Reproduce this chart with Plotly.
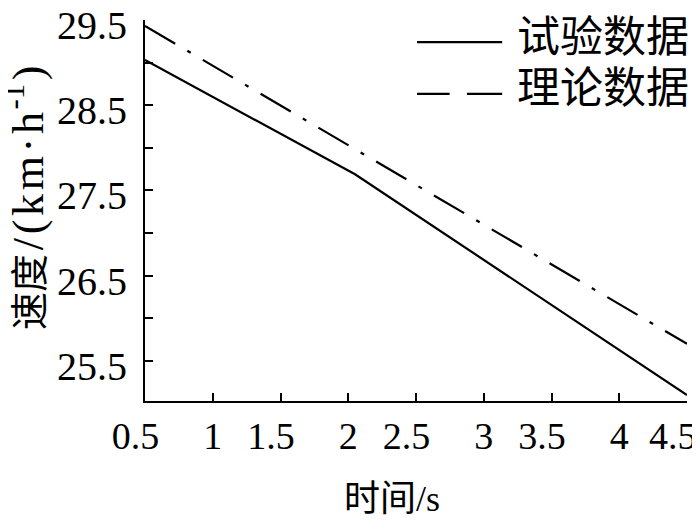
import plotly.graph_objects as go

t_test = [0.5, 2.05, 4.5]
v_test = [29.03, 27.69, 25.1]
t_theory = [0.5, 4.5]
v_theory = [29.43, 25.7]
series_names = ["试验数据", "理论数据"]

# the ".5" labels in the original sit a little left of their ticks; a hidden trailing
# character reproduces that offset
PAD = "<span style='color:rgba(0,0,0,0)'>0</span>"
PAD2 = "<span style='color:rgba(0,0,0,0)'>0.</span>"
x_ticks = [0.5, 1, 1.5, 2, 2.5, 3, 3.5, 4, 4.5]
x_labels = ["0.5" + PAD, "1", "1.5" + PAD, "2", "2.5" + PAD, "3", "3.5" + PAD, "4", "4.5" + PAD2]
y_ticks = [25.5, 26, 26.5, 27, 27.5, 28, 28.5, 29, 29.5]
y_labels = ["25.5", "", "26.5", "", "27.5", "", "28.5", "", "29.5"]

FONT = "Liberation Serif, Noto Sans CJK SC, serif"
HS = "\u200a"  # hair space, the original title is loosely spaced

fig = go.Figure()
fig.add_trace(go.Scatter(x=t_test, y=v_test, mode="lines", name=series_names[0], showlegend=False,
                         line=dict(color="black", width=2.2)))
fig.add_trace(go.Scatter(x=t_theory, y=v_theory, mode="lines", name=series_names[1], showlegend=False,
                         line=dict(color="black", width=2.2, dash="35px,14px,4px,14px")))

axis_common = dict(showline=True, linecolor="black", linewidth=2, showgrid=False, zeroline=False,
                   ticks="inside", ticklen=8, tickwidth=2, tickcolor="black", automargin=False,
                   ticklabeloverflow="allow")

fig.update_xaxes(range=[0.5, 4.5], tickvals=x_ticks, ticktext=x_labels,
                 tickfont=dict(family=FONT, size=38, color="black"), **axis_common)
fig.update_yaxes(range=[25.03, 29.5], tickvals=y_ticks, ticktext=y_labels,
                 tickfont=dict(family=FONT, size=40, color="black"),
                 ticklabelstandoff=8, ticklabelshift=5, **axis_common)

# axis titles placed as annotations so they sit where the original has them
fig.add_annotation(xref="paper", yref="paper", x=0.4557, y=-0.257, showarrow=False,
                   xanchor="center", yanchor="middle",
                   text="时间/s", font=dict(family=FONT, size=36, color="black"))
y_title = ("<span style='font-size:38px'>速度</span>" + HS + "/" + HS + "(" + HS + "k" + HS + "m" + HS
           + "·" + HS + "h<sup>" + HS + "-1</sup>" + HS + ")")
fig.add_annotation(xref="paper", yref="paper", x=-0.2214, y=0.533, showarrow=False, textangle=-90,
                   xanchor="center", yanchor="middle",
                   text=y_title, font=dict(family=FONT, size=44, color="black"))

# hand-drawn legend: long line samples like the original
legend_rows = [(0.942, 0.955, "solid"), (0.806, 0.819, "dash")]
for (yl, yt, style), name in zip(legend_rows, series_names):
    segs = [(0.502, 0.659)] if style == "solid" else [(0.502, 0.562), (0.594, 0.659)]
    for a, b in segs:
        fig.add_shape(type="line", xref="paper", yref="paper", x0=a, x1=b, y0=yl, y1=yl,
                      line=dict(color="black", width=2.2))
    fig.add_annotation(xref="paper", yref="paper", x=0.683, y=yt, text=name, showarrow=False,
                       xanchor="left", yanchor="middle",
                       font=dict(family=FONT, size=43, color="black"))

# the page body adds an 8px margin, so the figure is 8px smaller to fit the window
fig.update_layout(
    width=692, height=513,
    margin=dict(l=137, r=13, t=12, b=120),
    plot_bgcolor="white", paper_bgcolor="white",
    showlegend=False,
)

fig.write_html("out.html")
